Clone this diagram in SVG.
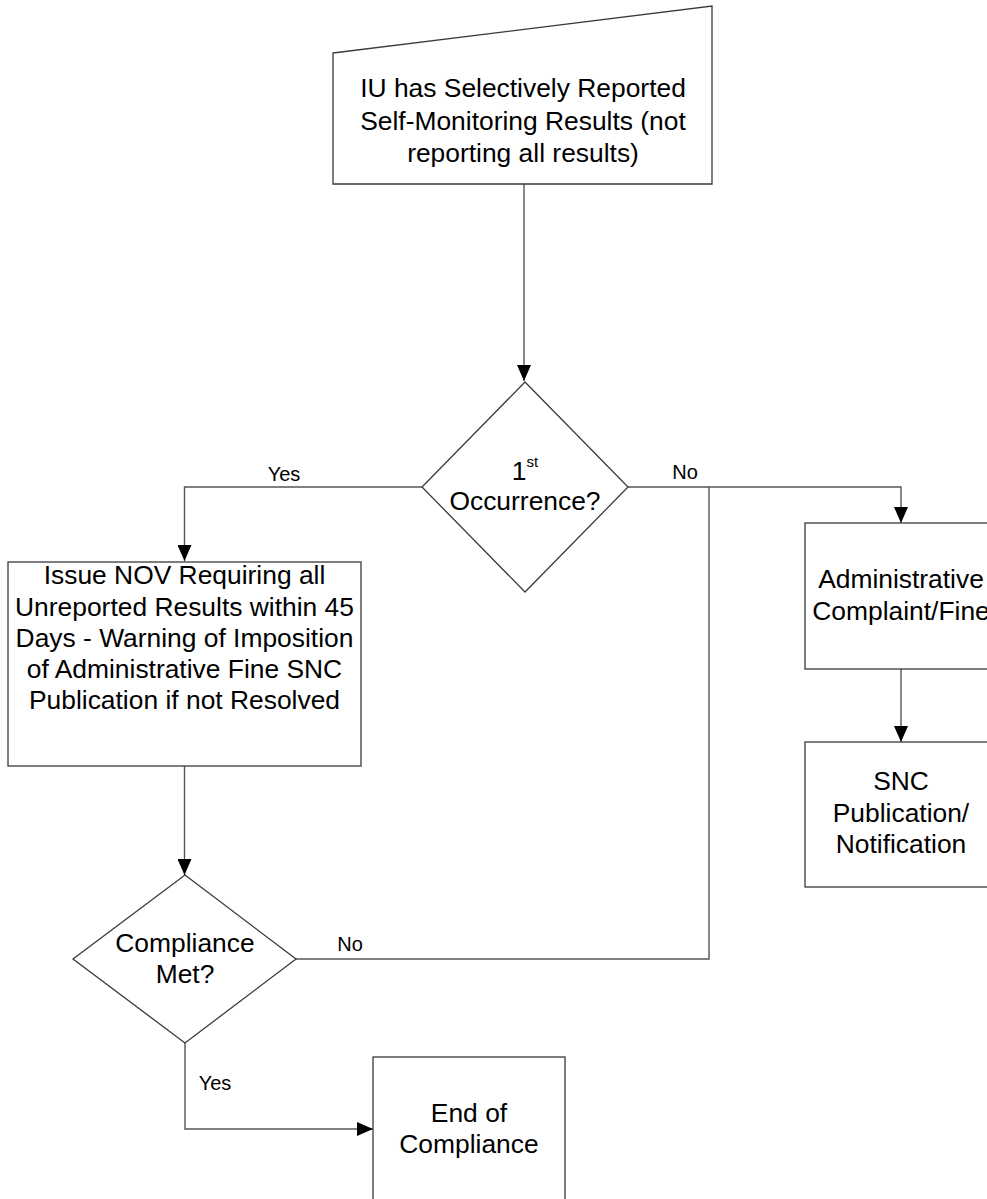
<svg xmlns="http://www.w3.org/2000/svg" width="987" height="1199" viewBox="0 0 987 1199">
  <defs>
    <marker id="arrow" viewBox="0 0 16 14" refX="16" refY="7" markerWidth="16" markerHeight="14" markerUnits="userSpaceOnUse" orient="auto">
      <path d="M0,0 L16,7 L0,14 Z" fill="#000"/>
    </marker>
    <style>
      .shape { fill: #fff; stroke: #3a3a3a; stroke-width: 1.3; }
      .wire { fill: none; stroke: #555; stroke-width: 1.4; }
      .txt { font-family: "Liberation Sans", Arial, sans-serif; font-size: 26.4px; fill: #000; text-anchor: middle; }
      .lbl { font-family: "Liberation Sans", Arial, sans-serif; font-size: 20px; fill: #000; text-anchor: middle; }
    </style>
  </defs>
  <rect width="987" height="1199" fill="#fff"/>

  <g id="connectors">
    <path class="wire" d="M524,184 V381" marker-end="url(#arrow)"/>
    <path class="wire" d="M422,487 H184.5 V561" marker-end="url(#arrow)"/>
    <path class="wire" d="M628,487 H901 V523" marker-end="url(#arrow)"/>
    <path class="wire" d="M901,669 V742" marker-end="url(#arrow)"/>
    <path class="wire" d="M184.5,766 V875" marker-end="url(#arrow)"/>
    <path class="wire" d="M296,959 H709 V487"/>
    <path class="wire" d="M185,1043 V1129 H373" marker-end="url(#arrow)"/>
    <text class="lbl" x="284" y="481">Yes</text>
    <text class="lbl" x="685" y="479">No</text>
    <text class="lbl" x="350" y="951">No</text>
    <text class="lbl" x="215" y="1090">Yes</text>
  </g>

  <g id="start">
    <polygon class="shape" points="333,53 712,6 712,184 333,184"/>
    <text class="txt" x="523" y="97">IU has Selectively Reported</text>
    <text class="txt" x="523" y="130">Self-Monitoring Results (not</text>
    <text class="txt" x="523" y="162">reporting all results)</text>
  </g>

  <g id="first-occurrence">
    <polygon class="shape" points="525,382 628,487 525,592 422,487"/>
    <text class="txt" x="525" y="480">1<tspan font-size="15" dy="-13">st</tspan></text>
    <text class="txt" x="525" y="510">Occurrence?</text>
  </g>

  <g id="issue-nov">
    <rect class="shape" x="8" y="562" width="353" height="204"/>
    <text class="txt" x="184.5" y="584">Issue NOV Requiring all</text>
    <text class="txt" x="184.5" y="616">Unreported Results within 45</text>
    <text class="txt" x="184.5" y="647">Days - Warning of Imposition</text>
    <text class="txt" x="184.5" y="678">of Administrative Fine SNC</text>
    <text class="txt" x="184.5" y="709">Publication if not Resolved</text>
  </g>

  <g id="admin-complaint">
    <rect class="shape" x="805" y="523" width="192" height="146"/>
    <text class="txt" x="901" y="588">Administrative</text>
    <text class="txt" x="901" y="620">Complaint/Fine</text>
  </g>

  <g id="snc-publication">
    <rect class="shape" x="805" y="742" width="192" height="145"/>
    <text class="txt" x="901" y="790">SNC</text>
    <text class="txt" x="901" y="822">Publication/</text>
    <text class="txt" x="901" y="853">Notification</text>
  </g>

  <g id="compliance-met">
    <polygon class="shape" points="185,875 296,959 185,1043 73,959"/>
    <text class="txt" x="185" y="952">Compliance</text>
    <text class="txt" x="185" y="983">Met?</text>
  </g>

  <g id="end-of-compliance">
    <rect class="shape" x="373" y="1057" width="192" height="160"/>
    <text class="txt" x="469" y="1122">End of</text>
    <text class="txt" x="469" y="1153">Compliance</text>
  </g>
</svg>
